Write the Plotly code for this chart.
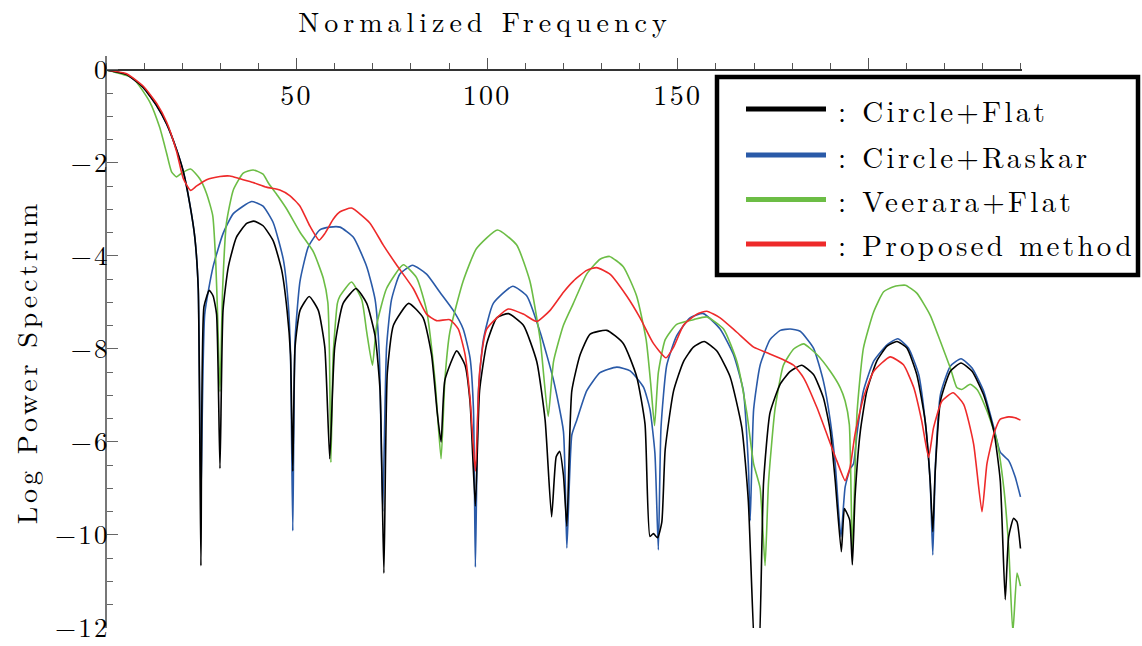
import plotly.graph_objects as go

# ---------------- data ----------------
black_x = [0, 5.4, 9.8, 13.3, 15.9, 18.5, 20.3, 22.0, 23.3, 24.2, 24.9, 25.7, 27.1, 28.1, 29.0, 29.9, 30.7, 32.1, 34.2, 36.9,
           38.8, 41.2, 43.9, 46.1, 47.5, 48.4, 49.0, 49.6, 50.9, 53.3, 55.7, 57.4, 58.7, 60.0, 62.2, 65.6, 68.4, 70.6, 71.9, 72.9,
           73.8, 75.4, 79.4, 83.2, 85.4, 86.9, 87.9, 88.9, 92.0, 94.2, 95.5, 96.9, 98.0, 99.9, 102.5, 105.6, 109.5, 113.0, 115.2, 116.9,
           118.1, 119.0, 120.0, 120.9, 122.2, 124.4, 127.0, 131.4, 135.7, 139.2, 141.4, 142.7, 143.6, 144.7, 145.8, 146.7, 148.9, 151.5, 154.1, 156.9,
           160.2, 163.7, 166.8, 168.5, 170.2, 170.7, 171.3, 172.5, 174.2, 176.9, 179.5, 182.5, 185.6, 188.2, 190.0, 191.3, 192.9, 193.7, 194.2, 195.1,
           195.8, 196.5, 197.9, 199.6, 202.2, 204.9, 207.5, 210.1, 212.7, 214.9, 216.2, 216.9, 217.5, 218.9, 221.5, 224.3, 227.2, 230.2, 232.9, 234.6,
           235.9, 236.8, 238.1, 239.0, 239.9]
black_y = [0, -0.10, -0.38, -0.77, -1.16, -1.71, -2.19, -2.89, -3.60, -4.70, -10.66, -5.09, -4.74, -4.86, -5.25, -8.57, -5.17, -4.23, -3.60, -3.30,
           -3.25, -3.35, -3.68, -4.31, -5.17, -6.12, -8.63, -5.96, -5.17, -4.87, -5.17, -5.96, -8.36, -5.96, -5.02, -4.70, -5.02, -5.72, -6.90, -10.82,
           -6.51, -5.49, -5.02, -5.33, -6.12, -7.37, -8.00, -6.67, -6.04, -6.35, -7.14, -9.38, -6.90, -5.88, -5.33, -5.24, -5.49, -6.27, -7.53, -9.61,
           -8.32, -8.20, -8.71, -9.81, -6.90, -6.12, -5.68, -5.60, -5.88, -6.59, -7.61, -10.03, -9.97, -10.06, -9.73, -8.16, -6.90, -6.27, -5.96, -5.84,
           -6.04, -6.59, -7.69, -9.26, -12.6, -12.3, -12.6, -8.87, -7.37, -6.75, -6.48, -6.35, -6.55, -7.05, -7.76, -8.83, -10.36, -9.43, -9.50, -9.68,
           -10.64, -9.18, -7.76, -6.90, -6.26, -5.94, -5.84, -5.98, -6.55, -7.55, -8.83, -9.93, -8.68, -7.12, -6.48, -6.30, -6.48, -6.98, -7.76, -8.83,
           -11.39, -10.04, -9.64, -9.72, -10.29]

blue_x = [0, 5.4, 9.8, 13.3, 15.9, 18.5, 20.3, 22.0, 23.3, 24.2, 24.9, 25.9, 28.1, 30.7, 33.4, 38.2, 41.2, 43.9, 46.5, 47.8,
          48.4, 49.0, 49.6, 50.9, 53.1, 56.1, 58.7, 61.4, 64.9, 68.4, 70.6, 71.7, 72.6, 73.6, 74.9, 77.1, 80.4, 84.1, 87.6, 91.1,
          93.7, 95.5, 96.4, 96.9, 97.7, 99.0, 101.6, 106.7, 110.4, 113.9, 117.4, 120.0, 120.9, 122.2, 123.5, 126.1, 129.6, 134.0, 137.5, 141.0,
          142.7, 144.0, 144.9, 145.6, 147.1, 149.7, 153.2, 156.7, 161.1, 164.6, 167.2, 168.5, 169.0, 169.9, 171.6, 174.2, 176.9, 179.5, 182.1, 185.6,
          188.2, 190.0, 191.3, 192.8, 193.9, 195.2, 196.1, 197.0, 198.7, 201.4, 204.9, 207.7, 210.5, 213.2, 214.9, 216.2, 216.9, 217.6, 218.9, 221.5,
          224.3, 227.2, 230.2, 232.9, 234.6, 236.8, 238.5, 239.9]
blue_y = [0, -0.10, -0.38, -0.77, -1.16, -1.71, -2.19, -2.89, -3.60, -4.70, -9.2, -5.25, -4.23, -3.52, -3.09, -2.83, -2.93, -3.29, -4.07, -5.02,
          -6.10, -9.91, -5.80, -4.54, -3.80, -3.44, -3.38, -3.38, -3.60, -4.23, -4.94, -6.12, -9.5, -5.96, -4.94, -4.39, -4.20, -4.39, -4.78, -5.17,
          -5.57, -6.19, -7.30, -10.69, -6.90, -5.80, -5.02, -4.65, -4.86, -5.64, -6.67, -7.77, -10.28, -7.85, -7.53, -6.90, -6.51, -6.39, -6.47, -6.82,
          -7.30, -8.24, -10.32, -7.69, -6.35, -5.72, -5.33, -5.24, -5.57, -6.12, -6.90, -8.47, -9.69, -7.30, -6.35, -5.80, -5.60, -5.57, -5.62, -5.98,
          -6.69, -7.54, -8.47, -10.04, -8.97, -8.58, -8.47, -7.83, -6.90, -6.26, -5.91, -5.78, -5.98, -6.55, -7.55, -8.83, -10.43, -8.47, -6.98, -6.37,
          -6.21, -6.41, -6.90, -7.69, -8.22, -8.40, -8.75, -9.18]

green_x = [0, 7.1, 11.5, 14.1, 15.9, 17.2, 18.5, 19.8, 22.2, 24.6, 26.4, 28.0, 28.8, 29.3, 29.9, 30.6, 31.6, 33.4, 36.0, 38.6,
           41.2, 42.6, 45.0, 47.4, 50.9, 54.4, 57.0, 58.2, 58.6, 59.0, 59.6, 60.7, 61.4, 64.4, 67.1, 68.4, 69.9, 71.0, 73.6, 78.0,
           81.5, 84.1, 86.3, 87.9, 88.9, 90.2, 93.7, 97.2, 102.7, 107.7, 111.2, 113.9, 116.0, 117.4, 120.0, 122.6, 126.1, 129.6, 132.1, 135.7,
           139.2, 141.7, 142.9, 143.9, 144.9, 146.7, 149.7, 154.1, 157.6, 162.0, 165.5, 168.1, 169.9, 171.6, 172.9, 173.8, 175.5, 177.7, 180.4, 183.0,
           186.5, 190.0, 192.6, 193.9, 195.0, 195.8, 197.0, 198.7, 201.4, 204.0, 206.6, 209.7, 212.7, 216.2, 218.9, 221.5, 223.2, 224.5, 226.7, 228.5,
           231.1, 233.7, 235.5, 236.8, 237.9, 239.0, 239.9]
green_y = [0, -0.18, -0.69, -1.24, -1.79, -2.19, -2.30, -2.22, -2.13, -2.34, -2.66, -3.13, -4.15, -5.33, -6.92, -4.70, -3.29, -2.58, -2.22, -2.15,
           -2.24, -2.43, -2.70, -2.99, -3.49, -3.91, -4.48, -5.00, -6.00, -8.44, -6.12, -5.02, -4.86, -4.56, -4.94, -5.64, -6.35, -5.49, -4.70, -4.19,
           -4.47, -5.17, -6.67, -8.36, -6.67, -5.64, -4.54, -3.84, -3.44, -3.76, -4.54, -5.80, -7.45, -6.27, -5.49, -5.02, -4.39, -4.07, -4.01, -4.23,
           -4.86, -5.80, -6.75, -7.65, -6.51, -5.80, -5.47, -5.37, -5.31, -5.57, -6.27, -7.37, -8.47, -8.99, -10.66, -8.87, -7.30, -6.35, -6.00, -5.89,
           -6.12, -6.48, -6.83, -7.12, -7.62, -10.4, -7.40, -5.98, -5.20, -4.77, -4.66, -4.63, -4.80, -5.27, -5.84, -6.41, -6.83, -6.87, -6.76, -6.87,
           -7.33, -7.97, -8.97, -10.25, -12.1, -10.82, -11.10]

red_x = [0, 5.4, 9.8, 13.3, 15.9, 18.5, 20.3, 22.2, 23.7, 26.4, 29.9, 32.5, 35.1, 38.6, 42.1, 45.6, 48.2, 50.9, 53.5, 55.9,
         57.4, 59.6, 61.4, 64.4, 69.2, 72.7, 76.2, 80.6, 84.1, 86.7, 90.2, 92.4, 94.2, 95.5, 96.9, 98.0, 99.9, 105.5, 109.5, 113.0,
         116.5, 120.0, 122.6, 126.1, 128.7, 132.2, 136.6, 140.1, 143.6, 146.9, 148.9, 151.5, 155.0, 157.6, 161.1, 165.5, 169.9, 173.4, 177.7, 180.4,
         183.0, 186.5, 189.1, 191.7, 193.9, 195.2, 196.5, 198.7, 201.4, 205.7, 209.2, 211.9, 214.0, 215.8, 217.1, 219.3, 222.2, 225.0, 227.6, 229.8,
         231.1, 232.9, 234.6, 236.8, 238.5, 239.9]
red_y = [0, -0.08, -0.35, -0.72, -1.12, -1.75, -2.34, -2.59, -2.50, -2.36, -2.29, -2.28, -2.34, -2.42, -2.52, -2.58, -2.70, -2.93, -3.36, -3.66,
         -3.52, -3.21, -3.05, -2.97, -3.29, -3.76, -4.19, -4.70, -5.25, -5.39, -5.37, -5.57, -6.12, -7.06, -8.63, -6.51, -5.57, -5.14, -5.25, -5.41,
         -5.17, -4.78, -4.54, -4.31, -4.25, -4.39, -4.86, -5.33, -5.88, -6.19, -5.96, -5.49, -5.25, -5.19, -5.33, -5.64, -5.96, -6.08, -6.23, -6.35,
         -6.62, -7.26, -7.83, -8.40, -8.83, -8.54, -7.83, -7.05, -6.48, -6.17, -6.34, -6.83, -7.55, -8.33, -7.69, -7.12, -6.94, -7.19, -8.04, -9.50,
         -8.47, -7.83, -7.51, -7.46, -7.48, -7.53]

series_names = [": Circle+Flat", ": Circle+Raskar", ": Veerara+Flat", ": Proposed method"]
series_colors = ["#000000", "#2a5aa8", "#6cbd45", "#ee2a2a"]

y_tickvals = [0, -2, -4, -6, -8, -10, -12]
y_ticktext = ["0", "\u22122", "\u22124", "\u22128", "\u22126", "\u221210", "\u221212"]
x_tickvals = [50, 100, 150, 200]
x_ticktext = ["50", "100", "150", ""]   # the 200 label is hidden behind the legend in the reference

# ---------------- figure ----------------
W, H = 1142, 646
ML, MR, MT, MB = 106, 120, 56, 18
XR = [0, 240.3]
YR = [-12, 0.3]
FONT = "Latin Modern Roman, CMU Serif, DejaVu Serif, serif"

fig = go.Figure()
draw_order = [1, 2, 0, 3]
all_x = [black_x, blue_x, green_x, red_x]
all_y = [black_y, blue_y, green_y, red_y]
for i in draw_order:
    fig.add_trace(go.Scatter(x=all_x[i], y=all_y[i], mode="lines", name=series_names[i],
                             line=dict(color=series_colors[i], width=1.6, shape="spline", smoothing=0.5),
                             showlegend=False))

xpos = (0 - YR[0]) / (YR[1] - YR[0])

fig.update_layout(
    width=W, height=H,
    margin=dict(l=ML, r=MR, t=MT, b=MB, autoexpand=False),
    paper_bgcolor="white", plot_bgcolor="white",
    font=dict(family=FONT, size=28, color="black"),
    title=dict(text="Normalized Frequency", x=485 / W, xanchor="center", y=1 - 22 / H, yanchor="middle",
               font=dict(family=FONT, size=28, color="black")),
    xaxis=dict(range=XR, side="top", anchor="free", position=xpos, automargin=False, showgrid=False, zeroline=False,
               showline=True, linecolor="#333", linewidth=1.5,
               ticks="outside", ticklen=11, tickwidth=1.2, tickcolor="#555",
               tickvals=x_tickvals, ticktext=x_ticktext, ticklabelstandoff=-58,
               tickfont=dict(family=FONT, size=28, color="black"),
               minor=dict(dtick=10, tick0=0, ticks="outside", ticklen=6, tickwidth=1.2, tickcolor="#555")),
    yaxis=dict(range=YR, anchor="free", position=0, automargin=False, showgrid=False, zeroline=False, showline=True,
               linecolor="#777", linewidth=1.6,
               ticks="inside", ticklen=11, tickwidth=1.2, tickcolor="#666",
               tickvals=y_tickvals, ticktext=y_ticktext, ticklabelstandoff=-10, ticklabeloverflow="allow",
               tickfont=dict(family=FONT, size=27, color="black"),
               minor=dict(dtick=0.5, tick0=0, ticks="inside", ticklen=6, tickwidth=1.2, tickcolor="#666")),
)

PW, PH = W - ML - MR, H - MT - MB
def px(xp):
    return (xp - ML) / PW
def py(yp):
    return (H - MB - yp) / PH

# y-axis title
fig.add_annotation(text="Log Power Spectrum", xref="paper", yref="paper", x=px(25), y=py(362),
                   xanchor="center", yanchor="middle", textangle=-90, showarrow=False,
                   font=dict(family=FONT, size=28, color="black"))

# legend box (drawn manually to match the long line samples of the reference)
fig.add_shape(type="rect", xref="paper", yref="paper", x0=px(717), x1=px(1138), y0=py(275), y1=py(77),
              line=dict(color="black", width=4.5), fillcolor="white", layer="above")
leg_y = [109, 155, 199.5, 244]
for i in range(4):
    fig.add_shape(type="line", xref="paper", yref="paper", x0=px(746), x1=px(826), y0=py(leg_y[i]), y1=py(leg_y[i]),
                  line=dict(color=series_colors[i], width=5), layer="above")
    fig.add_annotation(text=series_names[i], xref="paper", yref="paper", x=px(836), y=py(leg_y[i]),
                       xanchor="left", yanchor="middle", showarrow=False,
                       font=dict(family=FONT, size=29, color="black"))

# widen letter spacing like the reference typesetting; keep left-anchored legend texts fixed at their left edge
post = """
var gd = document.getElementById('{plot_id}');
gd.querySelectorAll('.main-svg text').forEach(function(t){
  var ls = 3.3;
  if (t.closest('.xtick') || t.closest('.ytick')) ls = 2.3;
  else if (t.classList.contains('gtitle')) ls = 5;
  var g = t.closest('g.annotation');
  var idx = g ? parseInt(g.getAttribute('data-index')) : -1;
  if (idx === 0) ls = 3.8;
  var w0 = t.getBBox().width;
  t.style.letterSpacing = ls + 'px';
  if (idx >= 1) {
    var d = t.getBBox().width - w0;
    var tr = t.getAttribute('transform') || '';
    t.setAttribute('transform', tr + ' translate(' + (d / 2) + ',0)');
  }
});
"""

fig.write_html("out.html", post_script=post)
